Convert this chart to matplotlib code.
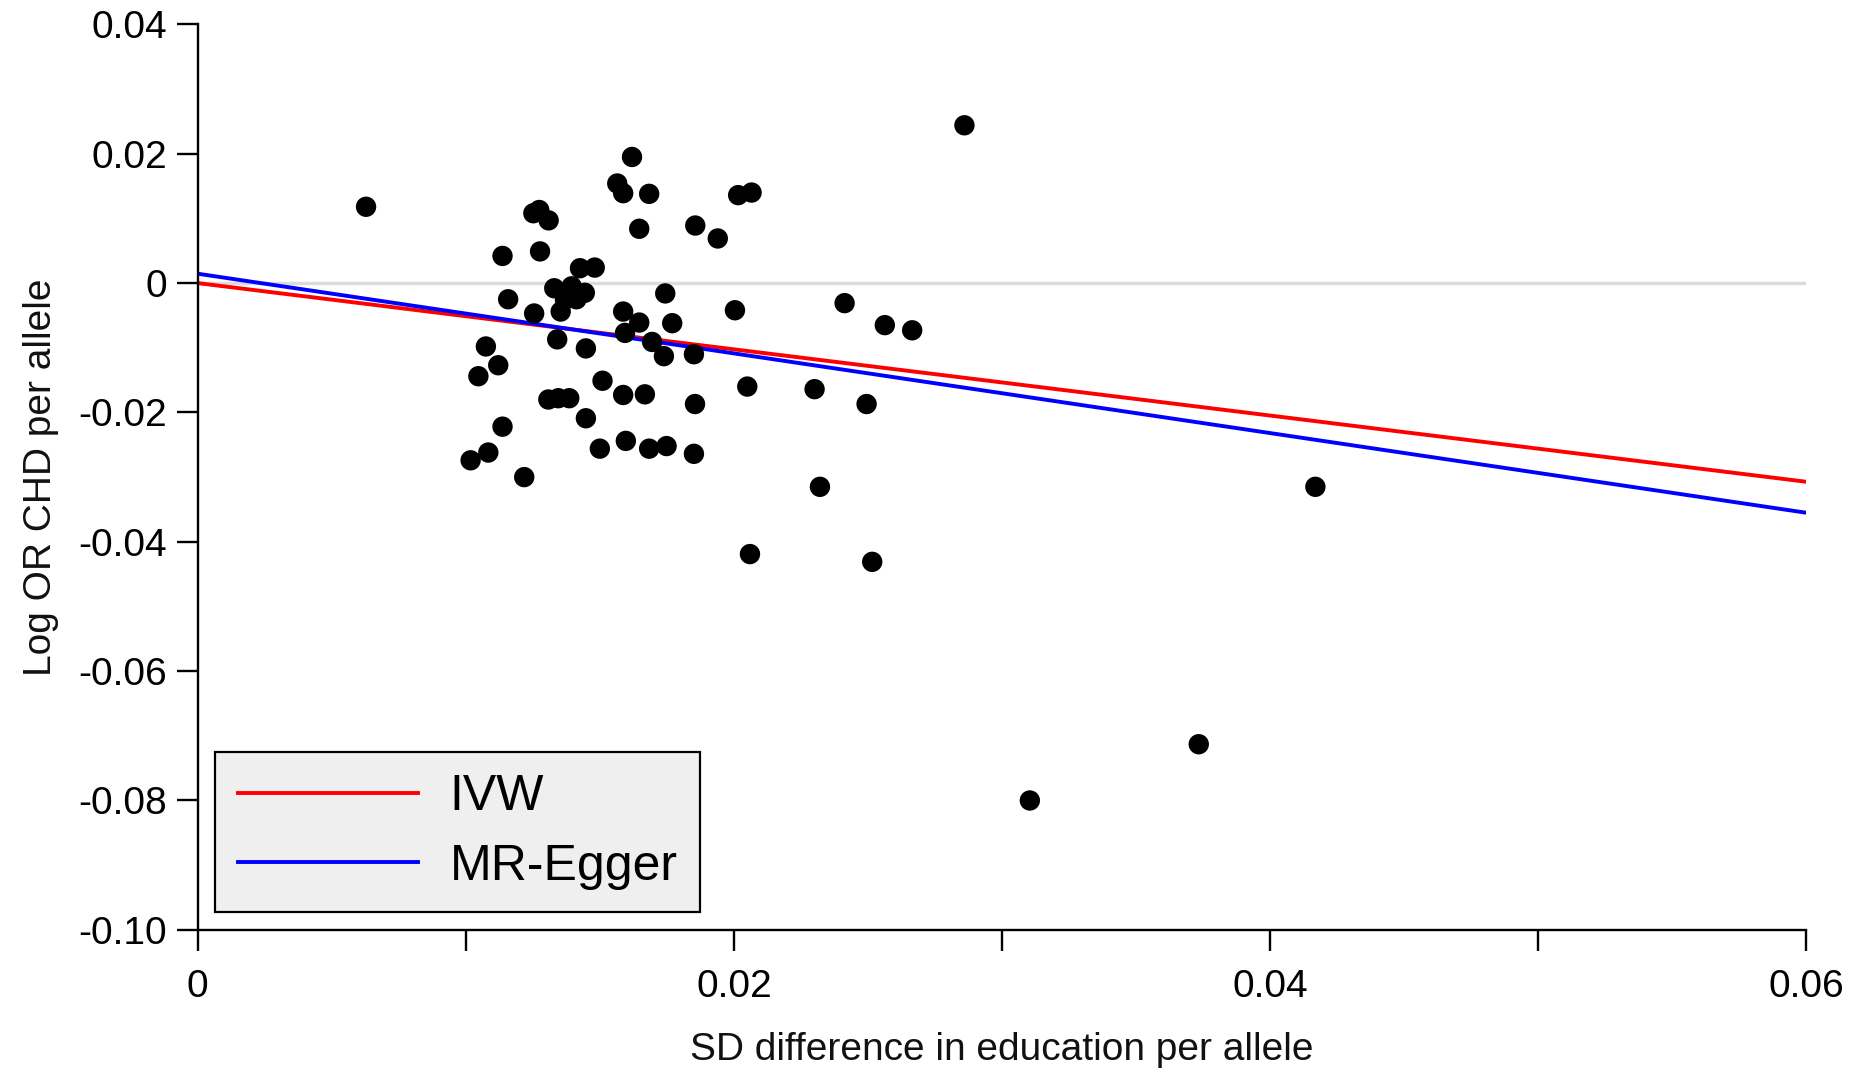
import matplotlib
matplotlib.use("Agg")
import matplotlib.pyplot as plt

# SNP effects
beta_edu = [
    0.00628, 0.0162, 0.01565, 0.01587, 0.01684, 0.02016, 0.02066, 0.01252, 0.01274, 0.01309,
    0.01647, 0.01856, 0.01940, 0.01137, 0.01277, 0.01426, 0.01481, 0.0286, 0.0133, 0.01395,
    0.01444, 0.0137, 0.01413, 0.01354, 0.01158, 0.01255, 0.01744, 0.01587, 0.01647, 0.0177,
    0.01594, 0.02004, 0.02413, 0.02563, 0.02665, 0.01695, 0.01739, 0.01851, 0.01341, 0.01448,
    0.01075, 0.01121, 0.01047, 0.0151, 0.01587, 0.01668, 0.01855, 0.01308, 0.01345, 0.01386,
    0.01448, 0.01137, 0.0150, 0.01597, 0.01684, 0.01749, 0.01851, 0.01084, 0.01018, 0.01218,
    0.0205, 0.02301, 0.02495, 0.02321, 0.0206, 0.02516, 0.03104, 0.03734, 0.04169,
]
beta_chd = [
    0.0118, 0.0195, 0.0154, 0.0139, 0.0138, 0.0136, 0.0140, 0.0108, 0.0113, 0.0097,
    0.0084, 0.0089, 0.0069, 0.0042, 0.0049, 0.0023, 0.0024, 0.0244, -0.0008, -0.0005,
    -0.0015, -0.0026, -0.0025, -0.0044, -0.0025, -0.0047, -0.0016, -0.0044, -0.0061, -0.0062,
    -0.0077, -0.0042, -0.0031, -0.0065, -0.0073, -0.0091, -0.0113, -0.0110, -0.0087, -0.0101,
    -0.0098, -0.0127, -0.0144, -0.0151, -0.0173, -0.0172, -0.0187, -0.0180, -0.0178, -0.0178,
    -0.0209, -0.0222, -0.0256, -0.0244, -0.0256, -0.0252, -0.0264, -0.0262, -0.0274, -0.0300,
    -0.0160, -0.0164, -0.0187, -0.0315, -0.0419, -0.0431, -0.0800, -0.0713, -0.0315,
]

# fitted lines (intercept, slope)
ivw_fit = (0.0, -0.512)
egger_fit = (0.00145, -0.616)

x_ticks = [0, 0.01, 0.02, 0.03, 0.04, 0.05, 0.06]
x_tick_labels = ["0", "", "0.02", "", "0.04", "", "0.06"]
y_ticks = [0.04, 0.02, 0, -0.02, -0.04, -0.06, -0.08, -0.10]
y_tick_labels = ["0.04", "0.02", "0", "-0.02", "-0.04", "-0.06", "-0.08", "-0.10"]


def draw():
    plt.rcParams["font.family"] = ["Liberation Sans", "DejaVu Sans"]
    fig = plt.figure(figsize=(18.65, 10.70), dpi=100)
    ax = fig.add_axes([0.106, 0.131, 0.8625, 0.8462])

    ax.plot([0, 0.06], [0, 0], color="#dcdcdc", lw=2.5, zorder=1)

    xs = [0, 0.06]
    ax.plot(xs, [ivw_fit[0] + ivw_fit[1] * v for v in xs], color="red", lw=2.8, label="IVW", zorder=2)
    ax.plot(xs, [egger_fit[0] + egger_fit[1] * v for v in xs], color="blue", lw=2.8, label="MR-Egger", zorder=2)

    ax.scatter(beta_edu, beta_chd, s=215, color="black", edgecolors="none", zorder=3)

    ax.set_xlim(0, 0.06)
    ax.set_ylim(-0.10, 0.04)
    ax.set_xticks(x_ticks)
    ax.set_xticklabels(x_tick_labels)
    ax.set_yticks(y_ticks)
    ax.set_yticklabels(y_tick_labels)

    for side in ["top", "right"]:
        ax.spines[side].set_visible(False)
    for side in ["left", "bottom"]:
        ax.spines[side].set_linewidth(1.7)
    ax.tick_params(axis="both", length=15, width=1.7, labelsize=28, labelcolor="black")
    ax.tick_params(axis="x", pad=13)
    ax.tick_params(axis="y", pad=7)

    ax.set_xlabel("SD difference in education per allele", fontsize=28, labelpad=20, color="#111111")
    ax.set_ylabel("Log OR CHD per allele", fontsize=28, labelpad=14, color="#111111")

    leg = ax.legend(loc="lower left", fontsize=36, handlelength=3.6, handletextpad=0.64,
                    labelspacing=0.47, borderpad=0.45, borderaxespad=0.35,
                    fancybox=False, framealpha=1)
    leg.get_frame().set_facecolor("#efefef")
    leg.get_frame().set_edgecolor("black")
    leg.get_frame().set_linewidth(1.6)

    fig.savefig("out.png", dpi=100)


def main():
    draw()


if __name__ == "__main__":
    main()
